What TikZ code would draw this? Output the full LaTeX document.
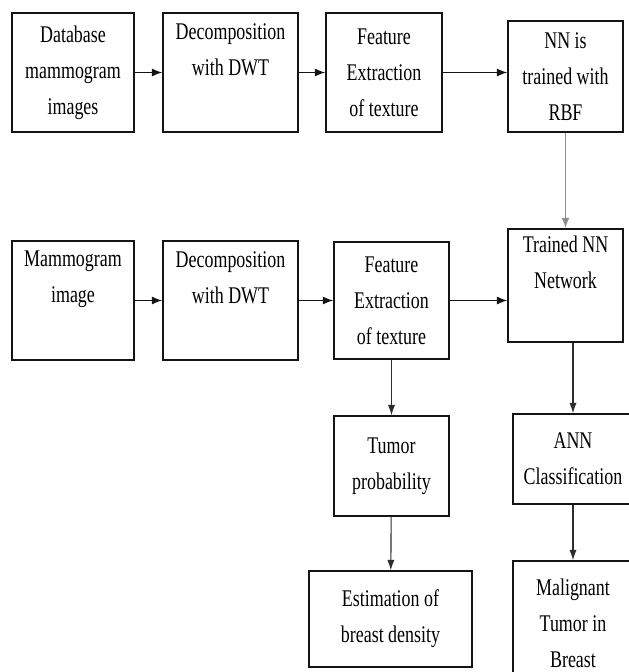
\documentclass[tikz,border=0pt]{standalone}
\usepackage{fontspec}
\setmainfont{Liberation Serif}[FakeStretch=0.75]
\usepackage{tikz}
\usetikzlibrary{arrows, arrows.meta}
\definecolor{trazo}{RGB}{20, 20, 20}
\definecolor{gris}{RGB}{140, 140, 140}
\definecolor{grisosc}{RGB}{45, 45, 45}
\tikzset{
    blk/.style={draw=trazo, rectangle, line width=1pt, align=center, inner sep=0pt, font=\fontsize{17}{25.6}\selectfont},
    conn/.style={-{Latex[length=2.6mm, width=2mm]}, trazo, line width=0.9pt},
    connGr/.style={-{Latex[length=2.6mm, width=2mm]}, gris, line width=1.4pt},
    connDk/.style={-{Latex[length=2.6mm, width=1.8mm]}, grisosc, line width=0.8pt},
}
\begin{document}
\begin{tikzpicture}[x=0.025cm, y=-0.025cm]
        \useasboundingbox (0,0) rectangle (629,672);
        % upper row
        \node[blk, minimum width=3.05cm, minimum height=2.975cm] (db) at (73,72.5) {Database\\mammogram\\images};
        \node[blk, minimum width=3.375cm, minimum height=2.975cm] (dwtA) at (230.5,72.5) {Decomposition\\with DWT\\\strut};
        \node[blk, minimum width=2.9cm, minimum height=2.975cm] (featA) at (384,72.5) {Feature\\Extraction\\of texture};
        \node[blk, minimum width=2.875cm, minimum height=2.775cm] (rbf) at (565.5,76.5) {NN is\\trained with\\RBF};
        % lower row
        \node[blk, minimum width=3.05cm, minimum height=2.975cm] (mimg) at (73,300.5) {Mammogram\\image\\\strut};
        \node[blk, minimum width=3.375cm, minimum height=2.975cm] (dwtB) at (230.5,300.5) {Decomposition\\with DWT\\\strut};
        \node[blk, minimum width=2.875cm, minimum height=2.925cm] (featB) at (391.5,300.5) {Feature\\Extraction\\of texture};
        \node[blk, minimum width=2.875cm, minimum height=2.825cm] (trnd) at (565.5,285.5) {Trained NN\\Network\\\strut};
        \node[blk, minimum width=2.875cm, minimum height=2.5cm] (tumor) at (391.5,466) {Tumor\\probability};
        \node[blk, minimum width=3cm, minimum height=2.25cm] (ann) at (573,459) {ANN\\Classification};
        \node[blk, minimum width=4.075cm, minimum height=2.4cm] (est) at (390.5,619) {Estimation of\\breast density};
        \node[blk, minimum width=3cm, minimum height=3.1cm] (malig) at (573,623) {Malignant\\Tumor in\\Breast};

        \draw[conn] (db) -- (dwtA);
        \draw[conn] (dwtA) -- (featA);
        \draw[conn] (featA.east) -- (featA.east -| rbf.west);
        \draw[connGr] (rbf) -- (trnd);

        \draw[conn] (mimg) -- (dwtB);
        \draw[conn] (dwtB) -- (featB);
        \draw[conn] (featB.east) -- (featB.east -| trnd.west);

        \draw[connDk] (featB) -- (tumor);
        \draw[connDk] (tumor) -- (est);
        \draw[connDk] (ann.north |- trnd.south) -- (ann.north);
        \draw[connDk] (ann) -- (malig);
    \end{tikzpicture}
\end{document}
